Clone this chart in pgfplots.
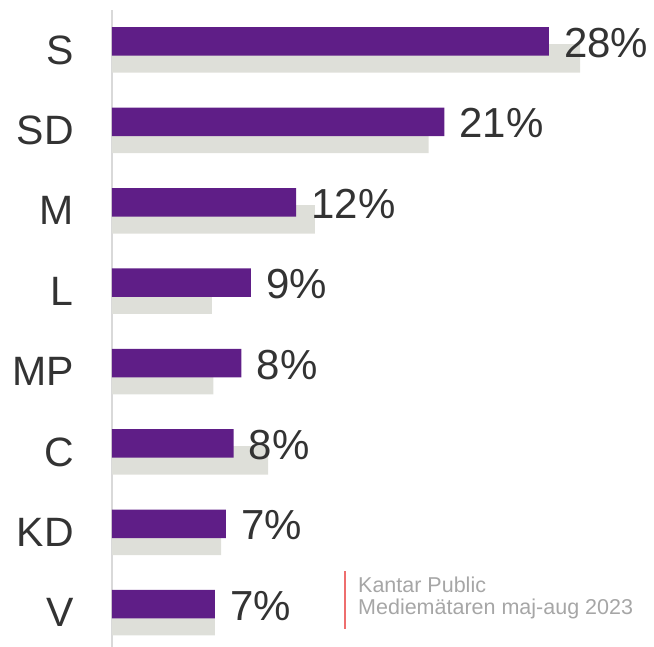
\documentclass[border=0pt]{standalone}
\usepackage{pgfplots}
\usepackage{pgfplotstable}
\pgfplotsset{compat=1.18}
\usepackage{fontspec}
\setmainfont{Liberation Sans}
\definecolor{kpurple}{RGB}{95,30,135}
\definecolor{kgray}{RGB}{222,223,217}
\definecolor{ktext}{RGB}{51,51,51}
\definecolor{ksrc}{RGB}{166,166,166}
\definecolor{kred}{RGB}{238,110,110}
\definecolor{kaxis}{RGB}{217,217,217}
\pgfplotstableread{
y cur prev lab
7 28.0 30.0 28
6 21.3 20.3 21
5 11.8 13.0 12
4 8.9 6.4 9
3 8.3 6.5 8
2 7.8 10.0 8
1 7.3 7.0 7
0 6.6 6.6 7
}\datatable
\begin{document}
\begin{tikzpicture}
\begin{axis}[
  scale only axis, width=542pt, height=637pt,
  xmin=0, xmax=34.74, ymin=-0.426, ymax=7.4975,
  xbar, bar width=28.5pt,
  clip=false,
  axis x line=none, axis y line=left,
  axis line style={draw=kaxis, line width=1.5pt, -},
  ytick={0,...,7},
  yticklabels={V,KD,C,MP,L,M,SD,S},
  major tick length=0pt, tick style={draw=none},
  yticklabel style={font=\fontsize{41}{41}\selectfont, text=ktext, inner sep=0pt, anchor=east, xshift=-38pt},
]
\addplot[fill=kgray, draw=none, bar shift=-8.5pt] table[x=prev, y=y] {\datatable};
\addplot[fill=kpurple, draw=none, bar shift=8.5pt,
  point meta=explicit symbolic,
  nodes near coords={\pgfplotspointmeta\%},
  nodes near coords style={anchor=west, inner sep=0pt, xshift=15pt, yshift=-1.5pt, text=ktext, font=\fontsize{42}{42}\selectfont}]
  table[x=cur, y=y, meta=lab] {\datatable};
\end{axis}
\draw[kred, line width=2pt] (233pt,18pt) -- (233pt,76pt);
\node[anchor=base west, inner sep=0pt, text=ksrc, font=\fontsize{21.5}{22}\selectfont] at (246pt,54pt) {Kantar Public};
\node[anchor=base west, inner sep=0pt, text=ksrc, font=\fontsize{21.5}{22}\selectfont] at (246pt,32pt) {Mediemätaren maj-aug 2023};
\pgfresetboundingbox
\path (-112pt,0pt) rectangle (542pt,647pt);
\end{tikzpicture}
\end{document}
